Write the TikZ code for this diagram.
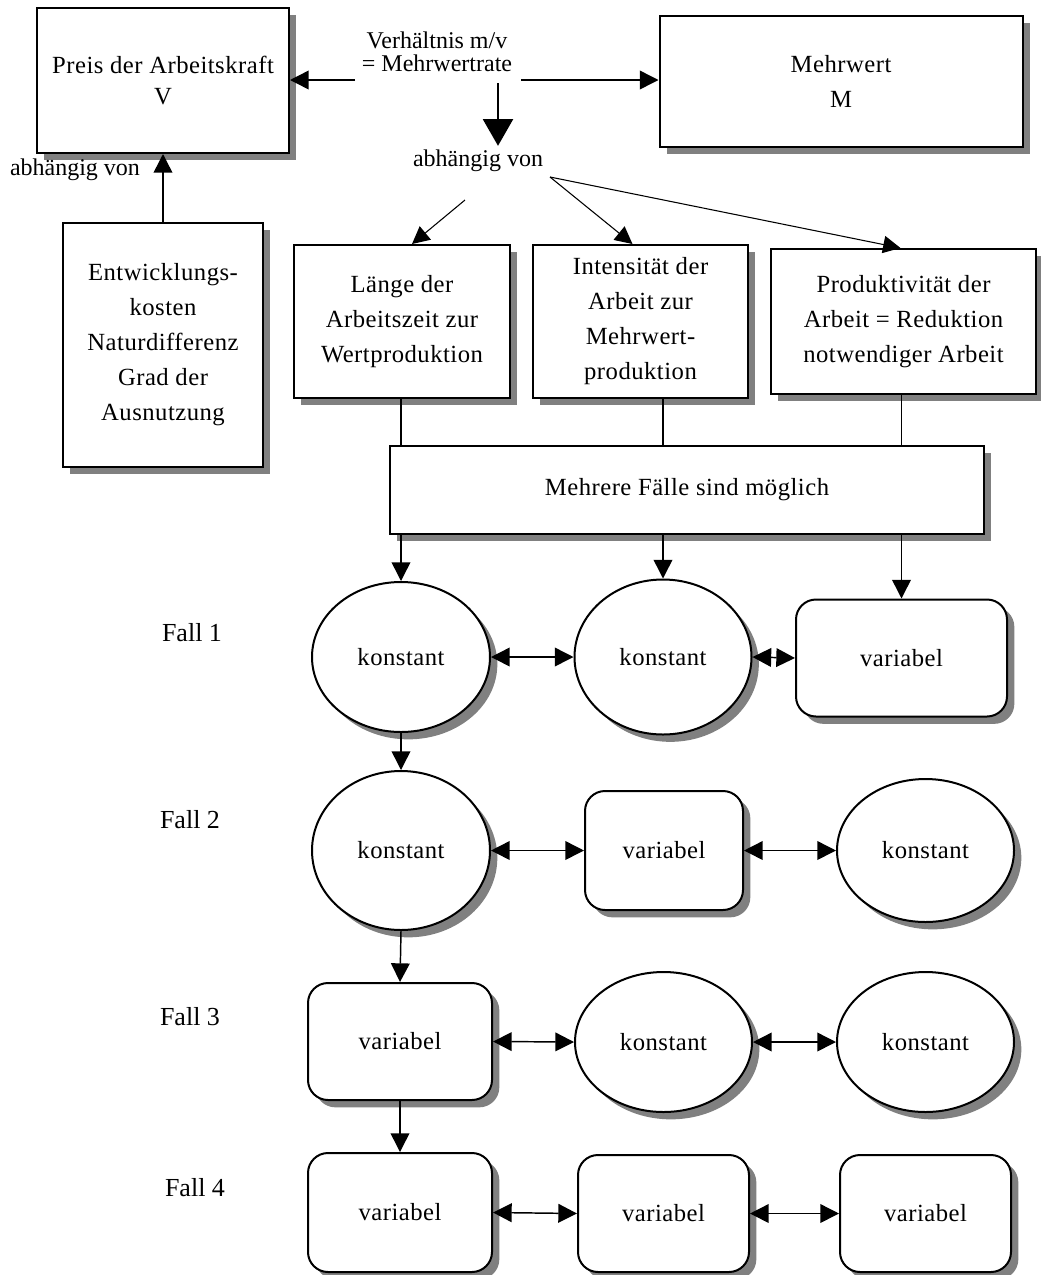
\documentclass[tikz,border=0pt]{standalone}
\usepackage{fontspec}
\setmainfont{Liberation Serif}
\newfontfamily\boxfont[LetterSpace=2]{Liberation Serif}
\usetikzlibrary{arrows.meta,shapes.geometric,shadows,calc}
\begin{document}
\begin{tikzpicture}[x=0.75pt,y=-0.75pt,
  dropshade/.style={drop shadow={shadow xshift=5.5pt,shadow yshift=-5.5pt,fill=black!50,opacity=1}},
  boxframe/.style={draw=black,line width=1.5pt,fill=white,dropshade,inner sep=0pt,
     font=\boxfont\fontsize{18.5}{26.25}\selectfont,align=center},
  sq/.style={boxframe,rectangle},
  rbox/.style={boxframe,rectangle,rounded corners=15pt},
  oval/.style={boxframe,ellipse},
  wh/.style 2 args={minimum width=#1*0.75pt,minimum height=#2*0.75pt},
  lbl/.style={font=\fontsize{18}{17.5}\selectfont,align=center,inner sep=0pt},
  fall/.style={font=\fontsize{19.5}{20}\selectfont,inner sep=0pt},
  conn/.style={line width=1.1pt,-{Triangle[length=14pt,width=14pt]}},
  thinconn/.style={line width=0.8pt,-{Triangle[length=13pt,width=13pt]}},
  twoway/.style={line width=1.1pt,{Triangle[length=14pt,width=14pt]}-{Triangle[length=14pt,width=14pt]}},
  link/.style={line width=1.1pt},
]
\useasboundingbox (0,0) rectangle (1041,1275);

% top level
\node[sq,wh={252}{145}] (preis) at (163,80.5) {Preis der Arbeitskraft\\[-3.5pt]V};
\node[sq,wh={363}{131}] (mehrwert) at (841,81) {Mehrwert\\M};
\node[lbl] (verh) at (437,52) {Verhältnis m/v\\= Mehrwertrate};
\node[lbl] (dep) at (478,161) {abhängig von};
\node[lbl] (depl) at (75,170) {abhängig von};

\coordinate (vl) at (355,80);
\coordinate (vr) at (521,80);
\coordinate (vd) at (498,83);
\draw[conn] (vl) -- (vl -| preis.east);
\draw[conn] (vr) -- (vr -| mehrwert.west);
\draw[line width=1.5pt,-{Triangle[length=20pt,width=22.5pt]},shorten >=3pt] (vd) -- (vd |- dep.north);

% factors
\node[sq,wh={200}{244}] (entw) at (163,345) {Entwicklungs-\\kosten\\Naturdifferenz\\Grad der\\Ausnutzung};
\node[sq,wh={216}{153}] (laenge) at (402,321.5) {Länge der\\Arbeitszeit zur\\Wertproduktion};
\node[sq,wh={215}{153}] (intens) at (640.5,321.5) {Intensität der\\Arbeit zur\\Mehrwert-\\produktion};
\node[sq,wh={265}{145}] (prod) at (903.5,321.5) {Produktivität der\\Arbeit = Reduktion\\notwendiger Arbeit};

\draw[conn] (entw.north) -- (preis.south);

\coordinate (s1) at (465,200);
\coordinate (s2) at (550,177);
\draw[thinconn] (s1) -- ($(laenge.north)+(10,0)$);
\draw[thinconn] (s2) -- ($(intens.north)+(-8,0)$);
\draw[thinconn] (s2) -- ($(prod.north)+(-3,0)$);

\node[sq,wh={594}{88}] (mehr) at (687,490) {Mehrere Fälle sind möglich};

% Fall 1
\node[oval,wh={178}{150}] (a1) at (401,657) {konstant};
\node[oval,wh={177}{155}] (a2) at (663,657) {konstant};
\node[rbox,wh={211}{117}] (a3) at (901.5,658) {variabel};
% Fall 2
\node[oval,wh={178}{159}] (b1) at (401,850.5) {konstant};
\node[rbox,wh={158}{119}] (b2) at (664,850.5) {variabel};
\node[oval,wh={177}{143}] (b3) at (925.5,850.5) {konstant};
% Fall 3
\node[rbox,wh={184}{117}] (c1) at (400,1041.5) {variabel};
\node[oval,wh={177}{140}] (c2) at (663.5,1042) {konstant};
\node[oval,wh={177}{140}] (c3) at (925.5,1042) {konstant};
% Fall 4
\node[rbox,wh={184}{119}] (r1) at (400,1212.5) {variabel};
\node[rbox,wh={171}{117}] (r2) at (663.5,1213.5) {variabel};
\node[rbox,wh={171}{117}] (r3) at (925.5,1213.5) {variabel};

\node[fall] (f1) at (192,633) {Fall 1};
\node[fall] (f2) at (190,820) {Fall 2};
\node[fall] (f3) at (190,1017) {Fall 3};
\node[fall] (f4) at (195,1188) {Fall 4};

% factor boxes into the case box
\draw[link] (a1 |- laenge.south) -- (a1 |- mehr.north);
\draw[link] (a2 |- intens.south) -- (a2 |- mehr.north);
\draw[link] (a3 |- prod.south) -- (a3 |- mehr.north);
\draw[conn] (a1 |- mehr.south) -- (a1.north);
\draw[conn] (a2 |- mehr.south) -- (a2.north);
\draw[conn] (a3 |- mehr.south) -- (a3.north);

% horizontal links
\draw[twoway] (a1.east) -- (a2.west);
\draw[twoway] (a2.east) -- (a3.west);
\draw[twoway] (b1.east) -- (b2.west);
\draw[twoway] (b2.east) -- (b3.west);
\draw[twoway] (c1.east) -- (c2.west);
\draw[twoway] (c2.east) -- (c3.west);
\draw[twoway] (r1.east) -- (r2.west);
\draw[twoway] (r2.east) -- (r3.west);

% vertical chain
\draw[conn] (a1.south) -- (b1.north);
\draw[conn] (b1.south) -- (c1.north);
\draw[conn] (c1.south) -- (r1.north);
\end{tikzpicture}
\end{document}
